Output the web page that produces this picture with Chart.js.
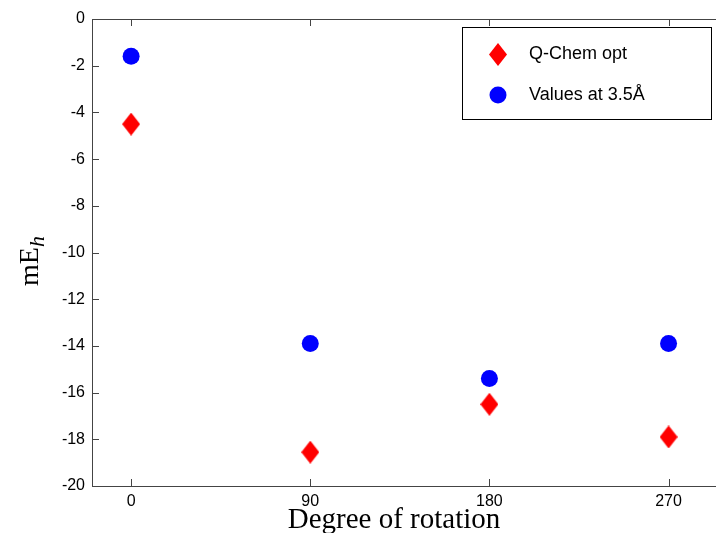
<!DOCTYPE html>
<html>
<head>
<meta charset="utf-8">
<script src="https://cdn.jsdelivr.net/npm/chart.js@4/dist/chart.umd.min.js"></script>
<style>
  body { margin: 0; background: #fff; }
  #wrap { width: 716px; height: 533px; }
</style>
</head>
<body>
<div id="wrap"><canvas id="myChart" width="716" height="533"></canvas></div>
<script>
// data
const rotations = [0, 90, 180, 270];
const qchemOpt = [-4.5, -18.55, -16.5, -17.9];
const valuesAt35 = [-1.6, -13.9, -15.4, -13.9];
const xTicks = [0, 90, 180, 270];
const yTicks = [-20, -18, -16, -14, -12, -10, -8, -6, -4, -2, 0];

// diamond marker, a bit taller than wide
function makeDiamond(w, h, color) {
  const c = document.createElement('canvas');
  c.width = w; c.height = h;
  const g = c.getContext('2d');
  g.fillStyle = color;
  g.beginPath();
  g.moveTo(w / 2, 0);
  g.lineTo(w, h / 2);
  g.lineTo(w / 2, h);
  g.lineTo(0, h / 2);
  g.closePath();
  g.fill();
  return c;
}
const diamond = makeDiamond(18, 23, '#ff0000');

const sans = '"Liberation Sans", Arial, sans-serif';
const serif = '"Liberation Serif", "DejaVu Serif", serif';

// inward ticks, frame lines running off the right edge, axis titles and the legend box
const framePlugin = {
  id: 'frame',
  afterDraw(chart) {
    const ctx = chart.ctx;
    const a = chart.chartArea;
    const xs = chart.scales.x, ys = chart.scales.y;
    ctx.save();
    ctx.strokeStyle = '#444';
    ctx.lineWidth = 1;
    ctx.beginPath();
    ctx.moveTo(a.left, Math.round(a.top) + 0.5);
    ctx.lineTo(716, Math.round(a.top) + 0.5);
    ctx.moveTo(a.right - 1, Math.round(a.bottom) + 0.5);
    ctx.lineTo(716, Math.round(a.bottom) + 0.5);
    xTicks.forEach((v) => {
      const px = Math.round(xs.getPixelForValue(v)) + 0.5;
      ctx.moveTo(px, a.bottom);
      ctx.lineTo(px, a.bottom - 7);
      ctx.moveTo(px, a.top);
      ctx.lineTo(px, a.top + 7);
    });
    yTicks.forEach((v) => {
      const py = Math.round(ys.getPixelForValue(v)) + 0.5;
      ctx.moveTo(a.left, py);
      ctx.lineTo(a.left + 7, py);
    });
    ctx.stroke();

    // axis titles
    ctx.fillStyle = '#000';
    ctx.font = '29px ' + serif;
    ctx.textAlign = 'center';
    ctx.textBaseline = 'alphabetic';
    ctx.fillText('Degree of rotation', 394, 528);

    ctx.save();
    ctx.translate(38, 261);
    ctx.rotate(-Math.PI / 2);
    ctx.textAlign = 'left';
    ctx.font = '28px ' + serif;
    const w = ctx.measureText('mE').width;
    ctx.font = 'italic 22px ' + serif;
    const wh = ctx.measureText('h').width;
    const start = -(w + wh) / 2;
    ctx.font = '28px ' + serif;
    ctx.fillText('mE', start, 0);
    ctx.font = 'italic 22px ' + serif;
    ctx.fillText('h', start + w, 6);
    ctx.restore();

    // legend
    ctx.fillStyle = '#fff';
    ctx.fillRect(462, 27, 249, 92);
    ctx.strokeStyle = '#000';
    ctx.strokeRect(462.5, 27.5, 249, 92);
    ctx.drawImage(diamond, 489, 43);
    ctx.fillStyle = '#0000ff';
    ctx.beginPath();
    ctx.arc(498, 95, 8.5, 0, Math.PI * 2);
    ctx.fill();
    ctx.fillStyle = '#000';
    ctx.font = '18px ' + sans;
    ctx.textAlign = 'left';
    ctx.textBaseline = 'middle';
    ctx.fillText('Q-Chem opt', 529, 54);
    ctx.fillText('Values at 3.5\u00c5', 529, 95);
    ctx.restore();
  }
};

document.addEventListener("DOMContentLoaded", () => {
  const ctx = document.getElementById('myChart').getContext('2d');
  new Chart(ctx, {
    type: 'scatter',
    data: {
      datasets: [{
        label: 'Q-Chem opt',
        data: rotations.map((r, i) => ({ x: r, y: qchemOpt[i] })),
        pointStyle: diamond,
        pointRadius: 12,
        backgroundColor: '#ff0000'
      }, {
        label: 'Values at 3.5\u00c5',
        data: rotations.map((r, i) => ({ x: r, y: valuesAt35[i] })),
        pointStyle: 'circle',
        pointRadius: 8.5,
        borderWidth: 0,
        backgroundColor: '#0000ff'
      }]
    },
    options: {
      responsive: false,
      animation: false,
      layout: { padding: { top: 19, right: 0, left: 0, bottom: 0 } },
      plugins: { legend: { display: false }, tooltip: { enabled: false } },
      scales: {
        x: {
          type: 'linear',
          min: -19.65,
          max: 287.3,
          afterBuildTicks: (scale) => { scale.ticks = xTicks.map((v) => ({ value: v })); },
          afterFit: (scale) => { scale.height = 47; },
          grid: { display: false, drawTicks: false },
          border: { display: true, color: '#444', width: 1 },
          ticks: { color: '#000', font: { family: sans, size: 16 }, padding: 6, maxRotation: 0 }
        },
        y: {
          min: -20,
          max: 0,
          afterBuildTicks: (scale) => { scale.ticks = yTicks.map((v) => ({ value: v })); },
          afterFit: (scale) => { scale.width = 92; },
          grid: { display: false, drawTicks: false },
          border: { display: true, color: '#444', width: 1 },
          ticks: { color: '#000', font: { family: sans, size: 16 }, padding: 7 }
        }
      }
    },
    plugins: [framePlugin]
  });
});
</script>
</body>
</html>
